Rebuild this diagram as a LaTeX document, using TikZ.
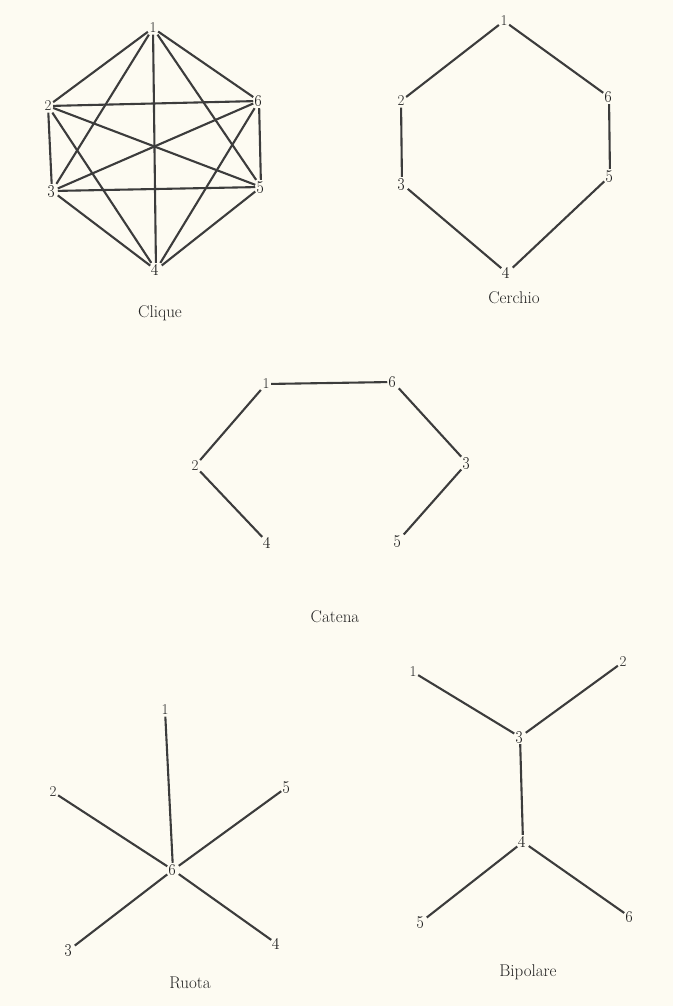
\documentclass[tikz,border=0pt]{standalone}
\usepackage{tikz}
\definecolor{paper}{RGB}{253,251,242}
\definecolor{ink}{RGB}{60,60,60}
\definecolor{textink}{RGB}{35,35,35}
\tikzset{
  lbl/.style={inner sep=1.5pt, text=textink, font=\fontsize{17}{19}\selectfont},
  caption/.style={inner sep=0pt, text=textink, font=\fontsize{17}{19}\selectfont},
  edge/.style={draw=ink, line width=2.1pt}
}
\newcommand{\dg}[1]{\oldstylenums{#1}}
\newcommand{\dgl}[1]{{\fontsize{15}{17}\selectfont #1}}
\begin{document}
\begin{tikzpicture}[x=1pt,y=-1pt]
\fill[paper] (0,0) rectangle (673,1006);
\useasboundingbox (0,0) rectangle (673,1006);
% Clique
\node[lbl] (c1) at (153,28) {\dgl{1}};
\node[lbl] (c2) at (48,106) {\dgl{2}};
\node[lbl] (c6) at (259,101) {\dg{6}};
\node[lbl] (c3) at (52,191) {\dg{3}};
\node[lbl] (c5) at (261,187) {\dg{5}};
\node[lbl] (c4) at (156,270) {\dg{4}};
\foreach \a/\b in {c1/c2,c1/c3,c1/c4,c1/c5,c1/c6,c2/c3,c2/c4,c2/c5,c2/c6,c3/c4,c3/c5,c3/c6,c4/c5,c4/c6,c5/c6}
  \draw[edge] (\a) -- (\b);
\node[caption] (clique) at (160,313) {Clique};
% Cerchio
\node[lbl] (k1) at (504,21) {\dgl{1}};
\node[lbl] (k2) at (401,101) {\dgl{2}};
\node[lbl] (k6) at (609,97) {\dg{6}};
\node[lbl] (k3) at (402,184) {\dg{3}};
\node[lbl] (k5) at (610,176) {\dg{5}};
\node[lbl] (k4) at (507,273) {\dg{4}};
\foreach \a/\b in {k1/k2,k2/k3,k3/k4,k4/k5,k5/k6,k6/k1}
  \draw[edge] (\a) -- (\b);
\node[caption] (cerchio) at (514,298) {Cerchio};
% Catena
\node[lbl] (t1) at (266,384) {\dgl{1}};
\node[lbl] (t6) at (393,382) {\dg{6}};
\node[lbl] (t2) at (195,466) {\dgl{2}};
\node[lbl] (t3) at (467,463) {\dg{3}};
\node[lbl] (t4) at (268,543) {\dg{4}};
\node[lbl] (t5) at (398,541) {\dg{5}};
\foreach \a/\b in {t1/t6,t1/t2,t2/t4,t6/t3,t3/t5}
  \draw[edge] (\a) -- (\b);
\node[caption] (catena) at (335,617) {Catena};
% Ruota
\node[lbl] (r1) at (165,710) {\dgl{1}};
\node[lbl] (r2) at (53,792) {\dgl{2}};
\node[lbl] (r5) at (287,787) {\dg{5}};
\node[lbl] (r6) at (173,870) {\dg{6}};
\node[lbl] (r3) at (69,950) {\dg{3}};
\node[lbl] (r4) at (277,944) {\dg{4}};
\foreach \b in {r1,r2,r3,r4,r5}
  \draw[edge] (r6) -- (\b);
\node[caption] (ruota) at (190,983) {Ruota};
% Bipolare
\node[lbl] (b1) at (413,672) {\dgl{1}};
\node[lbl] (b2) at (623,662) {\dgl{2}};
\node[lbl] (b3) at (520,737) {\dg{3}};
\node[lbl] (b4) at (523,842) {\dg{4}};
\node[lbl] (b5) at (421,922) {\dg{5}};
\node[lbl] (b6) at (630,917) {\dg{6}};
\foreach \a/\b in {b1/b3,b2/b3,b3/b4,b4/b5,b4/b6}
  \draw[edge] (\a) -- (\b);
\node[caption] (bipolare) at (528,972) {Bipolare};
\end{tikzpicture}
\end{document}
